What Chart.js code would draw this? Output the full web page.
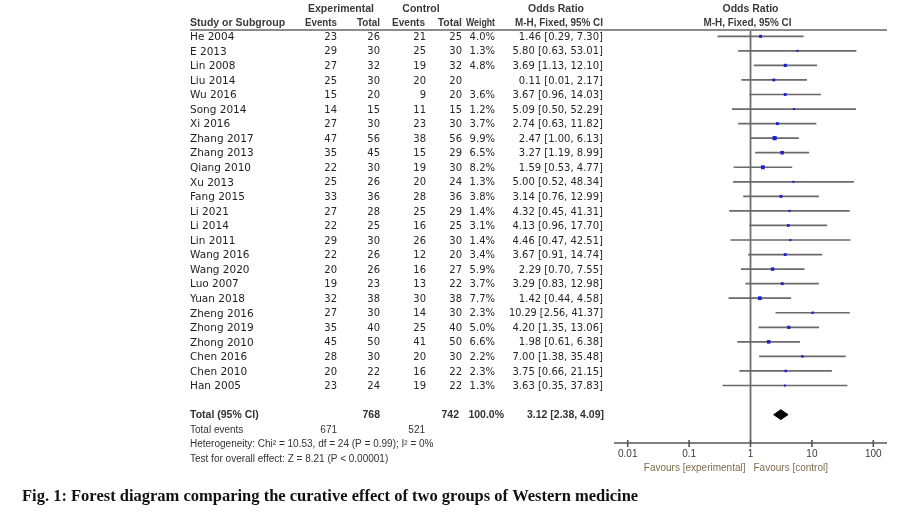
<!DOCTYPE html>
<html>
<head>
<meta charset="utf-8">
<script src="https://cdn.jsdelivr.net/npm/chart.js@4.4.0/dist/chart.umd.min.js"></script>
<style>
body { margin: 0; background: #fff; }
canvas { display: block; }
</style>
</head>
<body>
<canvas id="forest" width="899" height="524"></canvas>
<script>
var studies = ["He 2004", "E 2013", "Lin 2008", "Liu 2014", "Wu 2016", "Song 2014", "Xi 2016",
	"Zhang 2017", "Zhang 2013", "Qiang 2010", "Xu 2013", "Fang 2015", "Li 2021", "Li 2014",
	"Lin 2011", "Wang 2016", "Wang 2020", "Luo 2007", "Yuan 2018", "Zheng 2016", "Zhong 2019",
	"Zhong 2010", "Chen 2016", "Chen 2010", "Han 2005"];
var expEvents = [23, 29, 27, 25, 15, 14, 27, 47, 35, 22, 25, 33, 27, 22, 29, 22, 20, 19, 32, 27, 35, 45, 28, 20, 23];
var expTotal = [26, 30, 32, 30, 20, 15, 30, 56, 45, 30, 26, 36, 28, 25, 30, 26, 26, 23, 38, 30, 40, 50, 30, 22, 24];
var ctlEvents = [21, 25, 19, 20, 9, 11, 23, 38, 15, 19, 20, 28, 25, 16, 26, 12, 16, 13, 30, 14, 25, 41, 20, 16, 19];
var ctlTotal = [25, 30, 32, 20, 20, 15, 30, 56, 29, 30, 24, 36, 29, 25, 30, 20, 27, 22, 38, 30, 40, 50, 30, 22, 22];
var weights = [4.0, 1.3, 4.8, null, 3.6, 1.2, 3.7, 9.9, 6.5, 8.2, 1.3, 3.8, 1.4, 3.1, 1.4, 3.4, 5.9, 3.7, 7.7, 2.3, 5.0, 6.6, 2.2, 2.3, 1.3];
var oddsRatio = [1.46, 5.80, 3.69, 0.11, 3.67, 5.09, 2.74, 2.47, 3.27, 1.59, 5.00, 3.14, 4.32, 4.13, 4.46, 3.67, 2.29, 3.29, 1.42, 10.29, 4.20, 1.98, 7.00, 3.75, 3.63];
var ciLow = [0.29, 0.63, 1.13, 0.01, 0.96, 0.50, 0.63, 1.00, 1.19, 0.53, 0.52, 0.76, 0.45, 0.96, 0.47, 0.91, 0.70, 0.83, 0.44, 2.56, 1.35, 0.61, 1.38, 0.66, 0.35];
var ciHigh = [7.30, 53.01, 12.10, 2.17, 14.03, 52.29, 11.82, 6.13, 8.99, 4.77, 48.34, 12.99, 41.31, 17.70, 42.51, 14.74, 7.55, 12.98, 4.58, 41.37, 13.06, 6.38, 35.48, 21.15, 37.83];
// the drawing for Liu 2014 does not match its printed numbers: this is what is drawn
var liuDrawn = [2.4, 0.71, 8.3];
var total = [3.12, 2.38, 4.09];
var totalN = [768, 742];
var totalEvents = [671, 521];
var xTicks = [0.01, 0.1, 1, 10, 100];
var xTickLabels = ["0.01", "0.1", "1", "10", "100"];

var X_MIN = 0.00598, X_MAX = 167.1;
var Y_MIN = -0.433, Y_MAX = 27.95;
var TOTAL_ROW = 26;

var drawnOr = oddsRatio.slice(), drawnLo = ciLow.slice(), drawnHi = ciHigh.slice();
drawnOr[3] = liuDrawn[0]; drawnLo[3] = liuDrawn[1]; drawnHi[3] = liuDrawn[2];

var ciSegments = [];
var points = [];
for (var i = 0; i < studies.length; i++) {
	ciSegments.push({x: drawnLo[i], y: i});
	ciSegments.push({x: drawnHi[i], y: i});
	ciSegments.push({x: drawnHi[i], y: null});
	points.push({x: drawnOr[i], y: i});
}
var pointSizes = weights.map(function(w) { return w ? Math.sqrt(w) * 0.75 + 0.6 : 2; });

function fmt(v) { return v.toFixed(2); }

var textPlugin = {
	id: 'forestText',
	afterDraw: function(chart) {
		var ctx = chart.ctx;
		var xs = chart.scales.x, ys = chart.scales.y;
		var area = chart.chartArea;
		function rowY(r) { return ys.getPixelForValue(r) + 1; }
		function txt(s, x, y, align, font, color, maxW) {
			ctx.font = font;
			ctx.fillStyle = color || '#262626';
			ctx.textAlign = align;
			ctx.textBaseline = 'middle';
			if (maxW) ctx.fillText(s, x, y, maxW); else ctx.fillText(s, x, y);
		}
		ctx.save();
		// header rule
		ctx.strokeStyle = '#8c8c8c';
		ctx.lineWidth = 2;
		ctx.beginPath();
		ctx.moveTo(190, area.top);
		ctx.lineTo(area.right, area.top);
		ctx.stroke();

		var hb = 'bold 10.5px "Liberation Sans", Arial, sans-serif';
		var hc = '#3a3a3a';
		var h1 = rowY(-1.95), h2 = rowY(-0.98);
		txt('Experimental', 341, h1, 'center', hb, hc, 72);
		txt('Control', 421, h1, 'center', hb, hc);
		txt('Odds Ratio', 556, h1, 'center', hb, hc);
		txt('Odds Ratio', xs.getPixelForValue(1), h1, 'center', hb, hc);
		txt('Study or Subgroup', 190, h2, 'left', hb, hc, 106);
		txt('Events', 337, h2, 'right', hb, hc, 32);
		txt('Total', 380, h2, 'right', hb, hc, 23);
		txt('Events', 425, h2, 'right', hb, hc, 33);
		txt('Total', 462, h2, 'right', hb, hc, 25);
		txt('Weight', 495, h2, 'right', hb, hc, 29);
		txt('M-H, Fixed, 95% CI', 603, h2, 'right', hb, hc, 88);
		txt('M-H, Fixed, 95% CI', xs.getPixelForValue(1) - 3, h2, 'center', hb, hc, 88);

		var fName = '10.5px "DejaVu Sans", Verdana, sans-serif';
		var fNum = '10px "DejaVu Sans", Verdana, sans-serif';
		for (var i = 0; i < studies.length; i++) {
			var y = rowY(i);
			txt(studies[i], 190, y, 'left', fName, '#1e1e1e');
			txt(String(expEvents[i]), 337, y, 'right', fNum);
			txt(String(expTotal[i]), 380, y, 'right', fNum);
			txt(String(ctlEvents[i]), 426, y, 'right', fNum);
			txt(String(ctlTotal[i]), 462, y, 'right', fNum);
			if (weights[i] !== null) txt(weights[i].toFixed(1) + '%', 495, y, 'right', fNum, null, 30);
			txt(fmt(oddsRatio[i]) + ' [' + fmt(ciLow[i]) + ', ' + fmt(ciHigh[i]) + ']', 603, y, 'right', fNum, null, 94);
		}

		var fb = 'bold 10.5px "Liberation Sans", Arial, sans-serif';
		var ty = rowY(TOTAL_ROW) - 1;
		txt('Total (95% CI)', 190, ty, 'left', fb, '#333');
		txt(String(totalN[0]), 380, ty, 'right', fb, '#333');
		txt(String(totalN[1]), 459, ty, 'right', fb, '#333');
		txt('100.0%', 504, ty, 'right', fb, '#333');
		txt(fmt(total[0]) + ' [' + fmt(total[1]) + ', ' + fmt(total[2]) + ']', 604, ty, 'right', fb, '#333', 80);
		var fs = '10px "Liberation Sans", Arial, sans-serif';
		txt('Total events', 190, rowY(27.0), 'left', fs, '#333');
		txt(String(totalEvents[0]), 337, rowY(27.0), 'right', fs, '#333');
		txt(String(totalEvents[1]), 425, rowY(27.0), 'right', fs, '#333');
		txt('Heterogeneity: Chi\u00b2 = 10.53, df = 24 (P = 0.99); I\u00b2 = 0%', 190, rowY(27.97), 'left', fs, '#333', 265);
		txt('Test for overall effect: Z = 8.21 (P < 0.00001)', 190, rowY(28.98), 'left', fs, '#333', 218);

		// x axis
		ctx.strokeStyle = '#555';
		ctx.lineWidth = 1.6;
		ctx.beginPath();
		ctx.moveTo(area.left, area.bottom);
		ctx.lineTo(area.right, area.bottom);
		ctx.stroke();
		for (var k = 0; k < xTicks.length; k++) {
			var px = xs.getPixelForValue(xTicks[k]);
			ctx.beginPath();
			ctx.moveTo(px, area.bottom - 3);
			ctx.lineTo(px, area.bottom + 4);
			ctx.stroke();
			txt(xTickLabels[k], px, area.bottom + 11, 'center', '10px "Liberation Sans", Arial, sans-serif', '#3a3a3a');
		}
		var fav = '#7d6b4e';
		var one = xs.getPixelForValue(1);
		txt('Favours [experimental]', one - 5, area.bottom + 25, 'right', '10px "Liberation Sans", Arial, sans-serif', fav, 113);
		txt('Favours [control]', one + 3, area.bottom + 25, 'left', '10px "Liberation Sans", Arial, sans-serif', fav, 83);

		// caption
		txt('Fig. 1: Forest diagram comparing the curative effect of two groups of Western medicine',
			22, 497, 'left', 'bold 16.5px "Liberation Serif", "Times New Roman", serif', '#111', 618);
		ctx.restore();
	}
};

var ctx = document.getElementById('forest').getContext('2d');
var chart = new Chart(ctx, {
	type: 'line',
	data: {
		datasets: [{
			label: 'Study',
			data: points,
			showLine: false,
			pointStyle: 'rect',
			pointRadius: pointSizes,
			pointBackgroundColor: '#1f1fd6',
			pointBorderWidth: 0
		}, {
			label: 'Total',
			data: [
				{x: total[1], y: TOTAL_ROW},
				{x: total[0], y: TOTAL_ROW - 0.34},
				{x: total[2], y: TOTAL_ROW},
				{x: total[0], y: TOTAL_ROW + 0.34},
				{x: total[1], y: TOTAL_ROW}
			],
			borderColor: '#000',
			backgroundColor: '#000',
			borderWidth: 1,
			pointRadius: 0,
			fill: 'shape',
			tension: 0
		}, {
			label: 'CI',
			data: ciSegments,
			borderColor: '#6a6a6a',
			borderWidth: 1.7,
			pointRadius: 0,
			spanGaps: false,
			tension: 0
		}, {
			label: 'No effect',
			data: [{x: 1, y: Y_MIN}, {x: 1, y: Y_MAX}],
			borderColor: '#6e6e6e',
			borderWidth: 1.8,
			pointRadius: 0
		}]
	},
	options: {
		responsive: false,
		animation: false,
		layout: { padding: { left: 614, right: 12, top: 30, bottom: 81 } },
		plugins: { legend: { display: false }, tooltip: { enabled: false } },
		scales: {
			x: { type: 'logarithmic', min: X_MIN, max: X_MAX, display: false },
			y: { type: 'linear', min: Y_MIN, max: Y_MAX, reverse: true, display: false }
		}
	},
	plugins: [textPlugin]
});
</script>
</body>
</html>
